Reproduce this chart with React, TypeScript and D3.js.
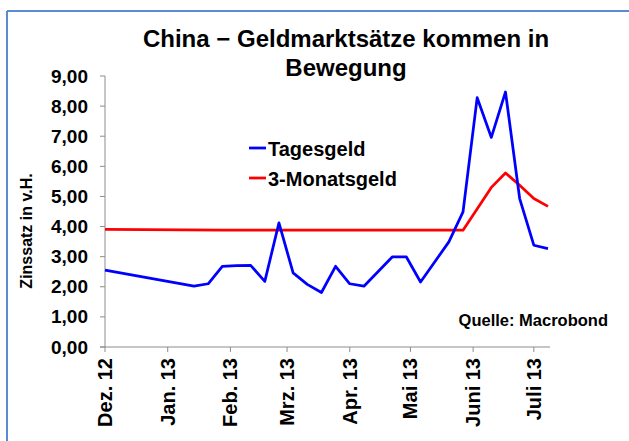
import React from 'react';
import * as d3 from 'd3';

// weekly data, Dez. 2012 - Juli 2013
const tagesDates = [
  '2012-12-01', '2013-01-14', '2013-01-21', '2013-01-28', '2013-02-04', '2013-02-11',
  '2013-02-18', '2013-02-25', '2013-03-04', '2013-03-11', '2013-03-18', '2013-03-25',
  '2013-04-01', '2013-04-08', '2013-04-22', '2013-04-29', '2013-05-06', '2013-05-20',
  '2013-05-27', '2013-06-03', '2013-06-10', '2013-06-17', '2013-06-24', '2013-07-01',
  '2013-07-08',
];
const tagesValues = [
  2.55, 2.02, 2.1, 2.68, 2.7, 2.71,
  2.18, 4.12, 2.46, 2.08, 1.81, 2.68,
  2.1, 2.02, 2.99, 2.99, 2.16, 3.49,
  4.49, 8.28, 6.96, 8.47, 4.93, 3.38,
  3.27,
];

const monatDates = [
  '2012-12-01', '2013-01-28', '2013-05-27', '2013-06-10', '2013-06-17',
  '2013-06-24', '2013-07-01', '2013-07-08',
];
const monatValues = [3.91, 3.88, 3.88, 5.3, 5.78, 5.37, 4.93, 4.67];

const monthLabels = ['Dez. 12', 'Jan. 13', 'Feb. 13', 'Mrz. 13', 'Apr. 13', 'Mai 13', 'Juni 13', 'Juli 13'];
const yTicks = [0, 1, 2, 3, 4, 5, 6, 7, 8, 9];

const seriesNames = ['Tagesgeld', '3-Monatsgeld'];
const seriesColors = ['#0000ff', '#ff0000'];

const W = 629;
const H = 441;
const FONT = '"Liberation Sans", Arial, sans-serif';

const parse = d3.timeParse('%Y-%m-%d');

export default function App() {
  const x = d3.scaleTime()
    .domain([parse('2012-12-01')!, parse('2013-07-09')!])
    .range([105, 550]);
  const y = d3.scaleLinear().domain([0, 9]).range([347, 76]);

  const line = d3.line<[Date, number]>()
    .x(d => x(d[0]))
    .y(d => y(d[1]));

  const tages: [Date, number][] = tagesDates.map((d, i) => [parse(d)!, tagesValues[i]]);
  const monat: [Date, number][] = monatDates.map((d, i) => [parse(d)!, monatValues[i]]);

  const monthTicks = d3.timeMonth.range(parse('2012-12-01')!, parse('2013-07-02')!);
  const fmt = (v: number) => v.toFixed(2).replace('.', ',');

  return (
    <svg width={W} height={H} style={{ position: 'absolute', left: 0, top: 0, background: '#fff' }}
      fontFamily={FONT} fontWeight="bold">
      {/* frame */}
      <line x1={7} y1={11} x2={W} y2={11} stroke="#5b8bd0" strokeWidth={2} />
      <line x1={7} y1={11} x2={7} y2={H} stroke="#5b8bd0" strokeWidth={2} />

      {/* title */}
      <text x={346} y={47} textAnchor="middle" fontSize={24}>China − Geldmarktsätze kommen in</text>
      <text x={346} y={76} textAnchor="middle" fontSize={24}>Bewegung</text>

      {/* y axis */}
      <line x1={105} y1={y(0)} x2={105} y2={y(9)} stroke="#8c8c8c" />
      {yTicks.map(t => (
        <g key={t}>
          <line x1={100} x2={105} y1={y(t)} y2={y(t)} stroke="#8c8c8c" />
          <text x={88} y={y(t) + 6.5} textAnchor="end" fontSize={19}>{fmt(t)}</text>
        </g>
      ))}
      <text transform={`translate(32,231) rotate(-90)`} textAnchor="middle" fontSize={16}>Zinssatz in v.H.</text>

      {/* x axis */}
      <line x1={100} y1={y(0)} x2={550} y2={y(0)} stroke="#8c8c8c" />
      {monthTicks.map((d, i) => (
        <g key={i}>
          <line x1={x(d)} x2={x(d)} y1={y(0)} y2={y(0) + 5} stroke="#8c8c8c" />
          <text transform={`translate(${x(d) + 7},358) rotate(-90)`} textAnchor="end" fontSize={20}>
            {monthLabels[i]}
          </text>
        </g>
      ))}

      {/* series */}
      <path d={line(monat)!} fill="none" stroke={seriesColors[1]} strokeWidth={2.75} strokeLinejoin="round" />
      <path d={line(tages)!} fill="none" stroke={seriesColors[0]} strokeWidth={2.75} strokeLinejoin="round" />

      {/* legend */}
      {seriesNames.map((n, i) => (
        <g key={n}>
          <line x1={249} x2={266} y1={148 + i * 30} y2={148 + i * 30} stroke={seriesColors[i]} strokeWidth={2.75} />
          <text x={268} y={156 + i * 30} fontSize={20}>{n}</text>
        </g>
      ))}

      <text x={608} y={326} textAnchor="end" fontSize={16.5}>Quelle: Macrobond</text>
    </svg>
  );
}
